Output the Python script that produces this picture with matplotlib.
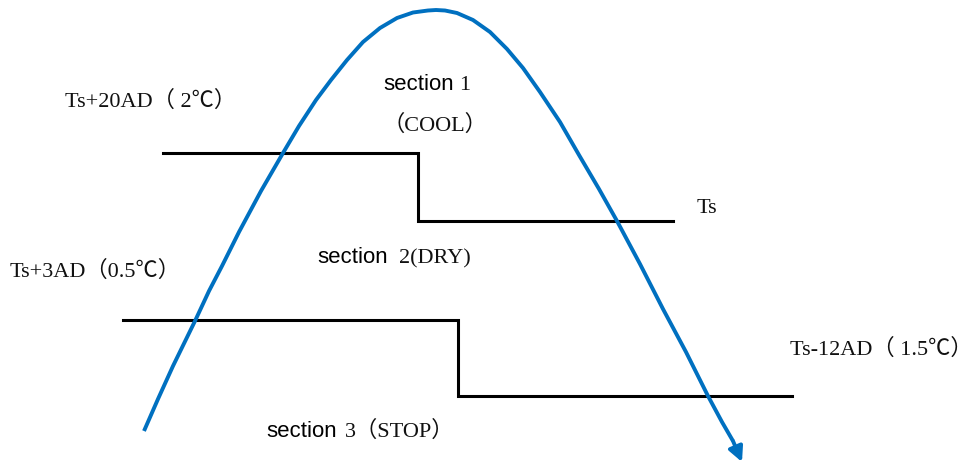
import numpy as np
import matplotlib
matplotlib.use('Agg')
import matplotlib.pyplot as plt

# 曲线上的点 (按图片像素读取)
curve_x = [144, 158, 173, 195, 209, 222, 239, 261, 283, 299, 316, 331, 347, 363, 380, 397, 413, 428,
           436, 445, 457, 473, 490, 507, 523, 540, 560, 579, 599, 617, 640, 663, 686, 708, 722, 733]
curve_y = [432, 400, 367, 322, 292, 267, 233, 192, 154, 127, 101, 81, 61, 43, 29, 19, 13.5, 11.5,
           11, 11.5, 14, 21, 33, 50, 69, 93, 123, 156, 190, 222, 265, 310, 353, 397, 423, 442]
arrow_tip = (742, 463)

# 两条阶梯线
step1_x = [163, 418, 418, 673]
step1_y = [154, 154, 222, 222]
step2_x = [123, 458, 458, 792]
step2_y = [321, 321, 397, 397]

# 文字
labels_serif = [
    (65, 107, 'Ts+20AD（ 2℃）'),
    (459, 90, '1'),
    (383, 131, '（COOL）'),
    (697, 213, 'Ts'),
    (399, 263, '2(DRY)'),
    (10, 277, 'Ts+3AD（0.5℃）'),
    (790, 355, 'Ts-12AD（ 1.5℃）'),
    (345, 437, '3（STOP）'),
]
labels_sans = [
    (383, 90, 'section'),
    (317, 263, 'section'),
    (266, 437, 'section'),
]

blue = '#0070C0'
serif_fam = ['Liberation Serif', 'Noto Sans CJK SC', 'DejaVu Sans']
sans_fam = ['Liberation Sans', 'DejaVu Sans']

fig = plt.figure(figsize=(9.76, 4.64), dpi=100)
ax = fig.add_axes([0, 0, 1, 1])
ax.set_xlim(0, 976)
ax.set_ylim(464, 0)
ax.axis('off')

ax.plot(step1_x, step1_y, color='black', lw=2.2, solid_joinstyle='miter')
ax.plot(step2_x, step2_y, color='black', lw=2.2, solid_joinstyle='miter')

ax.plot(curve_x, curve_y, color=blue, lw=2.8, solid_capstyle='butt', solid_joinstyle='round')
ax.annotate('', xy=arrow_tip, xytext=(curve_x[-1], curve_y[-1]),
            arrowprops=dict(arrowstyle='-|>', color=blue, lw=2.8,
                            mutation_scale=22, shrinkA=0, shrinkB=0))

for x, y, s in labels_serif:
    ax.text(x, y, s, family=serif_fam, fontsize=16, ha='left', va='baseline', color='#111111')
for x, y, s in labels_sans:
    ax.text(x, y, s, family=sans_fam, fontsize=16, ha='left', va='baseline', color='black')

fig.savefig('out.png', dpi=100)
